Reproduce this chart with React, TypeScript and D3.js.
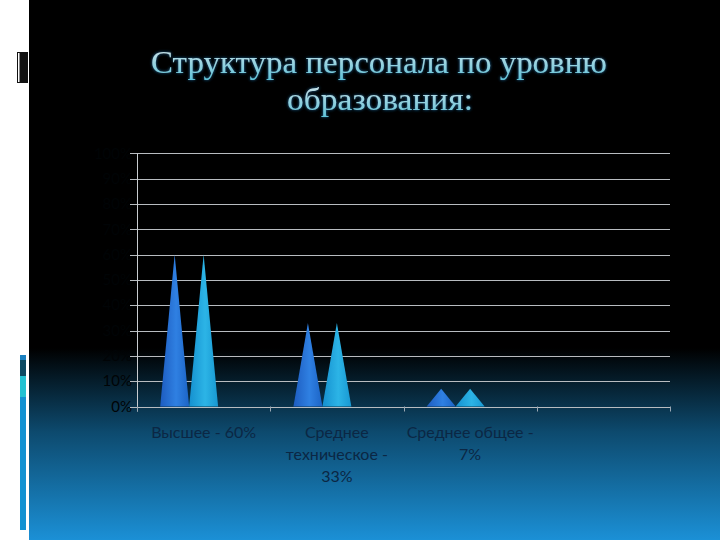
import React, { useEffect, useRef } from 'react'
import * as d3 from 'd3'

// Chart data
const categories = ['Высшее - 60%', 'Среднее техническое - 33%', 'Среднее общее - 7%', '']
const categoryLines = [['Высшее - 60%'], ['Среднее', 'техническое -', '33%'], ['Среднее общее -', '7%'], []]
const seriesNames = ['Ряд 1', 'Ряд 2', 'Ряд 3']
const series1 = [60, 33, 7, null]
const series2 = [60, 33, 7, null]
const series3 = [null, null, null, null]
const yTicks = [0, 10, 20, 30, 40, 50, 60, 70, 80, 90, 100]
const titleLines = ['Структура персонала по уровню', 'образования:']

const W = 720
const H = 540

export default function App() {
  const svgRef = useRef<SVGSVGElement>(null)

  useEffect(() => {
    if (!svgRef.current) return
    document.body.style.margin = '0'
    const svg = d3.select(svgRef.current)
    svg.selectAll('*').remove()

    const defs = svg.append('defs')

    const bg = defs.append('linearGradient').attr('id', 'bg')
      .attr('x1', 0).attr('y1', 0).attr('x2', 0).attr('y2', 1)
    bg.append('stop').attr('offset', '0.645').attr('stop-color', '#000000')
    bg.append('stop').attr('offset', '0.8').attr('stop-color', '#0d4a6e')
    bg.append('stop').attr('offset', '1').attr('stop-color', '#1b90d6')

    const coneColors = [
      ['#1d5cc0', '#2f80e2', '#1c64c6'],
      ['#1590cf', '#2cb4e6', '#1898d2'],
      ['#1a9ad8', '#40c8f0', '#1a9ad8']
    ]
    coneColors.forEach((c, i) => {
      const g = defs.append('linearGradient').attr('id', `cone${i}`)
        .attr('x1', 0).attr('y1', 0).attr('x2', 1).attr('y2', 0)
      g.append('stop').attr('offset', '0').attr('stop-color', c[0])
      g.append('stop').attr('offset', '0.55').attr('stop-color', c[1])
      g.append('stop').attr('offset', '1').attr('stop-color', c[2])
    })

    const tg = defs.append('linearGradient').attr('id', 'titleFill')
      .attr('x1', 0).attr('y1', 0).attr('x2', 0).attr('y2', 1)
    tg.append('stop').attr('offset', '0').attr('stop-color', '#d6e6ea')
    tg.append('stop').attr('offset', '1').attr('stop-color', '#5ec2d8')

    const glow = defs.append('filter').attr('id', 'glow')
      .attr('x', '-10%').attr('y', '-30%').attr('width', '120%').attr('height', '160%')
    glow.append('feGaussianBlur').attr('in', 'SourceAlpha').attr('stdDeviation', 1.6).attr('result', 'b')
    glow.append('feFlood').attr('flood-color', '#1f6fa8')
    glow.append('feComposite').attr('in2', 'b').attr('operator', 'in').attr('result', 'g')
    const merge = glow.append('feMerge')
    merge.append('feMergeNode').attr('in', 'g')
    merge.append('feMergeNode').attr('in', 'SourceGraphic')

    // Slide background
    svg.append('rect').attr('width', W).attr('height', H).attr('fill', '#ffffff')
    svg.append('rect').attr('x', 29).attr('width', W - 29).attr('height', H).attr('fill', 'url(#bg)')

    // Left side decorations
    svg.append('rect').attr('x', 17).attr('y', 52).attr('width', 11).attr('height', 31).attr('fill', '#111')
    svg.append('rect').attr('x', 18).attr('y', 53).attr('width', 1.5).attr('height', 29).attr('fill', '#fff')
    svg.append('rect').attr('x', 20).attr('y', 355).attr('width', 6).attr('height', 5).attr('fill', '#1a80c0')
    svg.append('rect').attr('x', 20).attr('y', 360).attr('width', 6).attr('height', 16).attr('fill', '#0c4a62')
    svg.append('rect').attr('x', 20).attr('y', 376).attr('width', 6).attr('height', 21).attr('fill', '#22c2d2')
    svg.append('rect').attr('x', 20).attr('y', 397).attr('width', 6).attr('height', 133).attr('fill', '#1292d2')

    // Title
    const title = svg.append('g').attr('filter', 'url(#glow)')
    titleLines.forEach((t, i) => {
      title.append('text')
        .attr('x', i === 0 ? 151 : 287)
        .attr('y', i === 0 ? 73 : 110)
        .attr('textLength', i === 0 ? 456 : 186)
        .attr('lengthAdjust', 'spacingAndGlyphs')
        .style('font-family', '"Liberation Serif", serif')
        .style('font-size', '31px')
        .attr('fill', 'url(#titleFill)')
        .text(t)
    })

    // Plot area
    const left = 137
    const right = 670
    const top = 153.3
    const bottom = 406.5

    const x0 = d3.scaleBand<string>().domain(categories.map((c, i) => `${i}`)).range([left, right]).padding(0)
    const x1 = d3.scaleBand<string>().domain(seriesNames).range([0, x0.bandwidth()]).paddingInner(0).paddingOuter(0.8)
    const y = d3.scaleLinear().domain([0, 100]).range([bottom, top])

    const g = svg.append('g')

    // Tick labels (very dark, only readable against the blue lower part)
    g.selectAll('.ylabel')
      .data(yTicks)
      .join('text')
      .attr('x', left - 5)
      .attr('y', d => y(d))
      .attr('dy', '0.35em')
      .attr('text-anchor', 'end')
      .style('font-family', 'Lato, "Open Sans", sans-serif')
      .style('font-size', '15px')
      .attr('fill', '#010406')
      .text(d => `${d}%`)

    g.selectAll('.grid')
      .data(yTicks)
      .join('line')
      .attr('x1', left - 7)
      .attr('x2', right)
      .attr('y1', d => Math.round(y(d)) + 0.5)
      .attr('y2', d => Math.round(y(d)) + 0.5)
      .attr('stroke', '#b8bcc0')
      .attr('stroke-width', 1)

    g.append('line')
      .attr('x1', left + 0.5).attr('x2', left + 0.5)
      .attr('y1', top).attr('y2', bottom + 5)
      .attr('stroke', '#c8ccd0')

    const bounds = categories.map((c, i) => x0(`${i}`) as number).concat([right])
    g.selectAll('.xtick')
      .data(bounds)
      .join('line')
      .attr('x1', d => Math.round(d) + 0.5)
      .attr('x2', d => Math.round(d) + 0.5)
      .attr('y1', bottom)
      .attr('y2', bottom + 5)
      .attr('stroke', '#9aa8b4')

    // Cones
    const allSeries = [series1, series2, series3]
    allSeries.forEach((vals, si) => {
      const name = seriesNames[si]
      g.selectAll(`.cone${si}`)
        .data(vals.map((v, ci) => ({ v, ci })).filter(d => d.v != null))
        .join('path')
        .attr('d', d => {
          const bx = (x0(`${d.ci}`) as number) + (x1(name) as number)
          const bw = x1.bandwidth()
          return `M${bx},${y(0)}L${bx + bw / 2},${y(d.v as number)}L${bx + bw},${y(0)}Z`
        })
        .attr('fill', `url(#cone${si})`)
    })

    // Category labels
    categoryLines.forEach((lines, ci) => {
      const cx = (x0(`${ci}`) as number) + x0.bandwidth() / 2
      lines.forEach((line, li) => {
        g.append('text')
          .attr('x', cx)
          .attr('y', 438 + li * 22)
          .attr('text-anchor', 'middle')
          .style('font-family', 'Lato, "Open Sans", sans-serif')
          .style('font-size', '16px')
          .attr('fill', '#0b2744')
          .text(line)
      })
    })
  }, [])

  return (
    <div style={{ position: 'absolute', left: 0, top: 0 }}>
      <svg ref={svgRef} width={W} height={H} style={{ display: 'block' }} />
    </div>
  )
}
